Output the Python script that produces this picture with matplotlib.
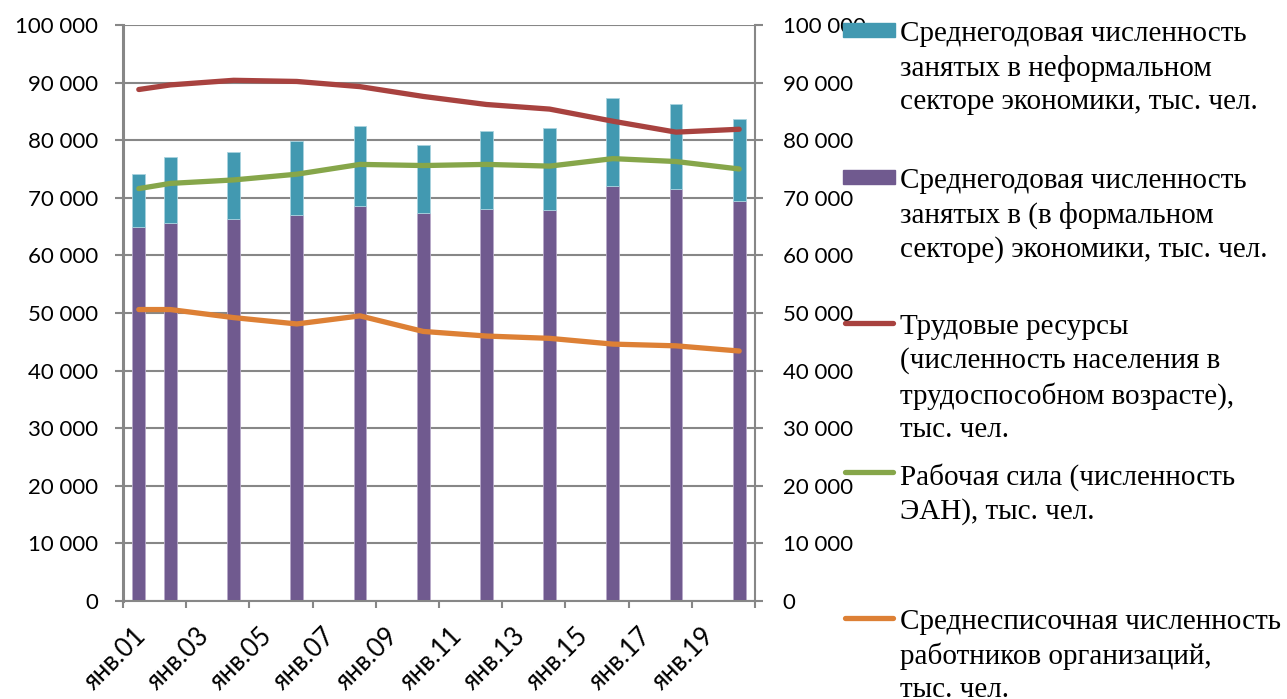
import numpy as np
import matplotlib
matplotlib.use("Agg")
import matplotlib.pyplot as plt
from matplotlib.lines import Line2D
from matplotlib.patches import Rectangle
from matplotlib.ticker import FuncFormatter, MultipleLocator
from matplotlib.transforms import ScaledTranslation

# годы наблюдений и показатели, тыс. чел.
years = [2001, 2002, 2004, 2006, 2008, 2010, 2012, 2014, 2016, 2018, 2020]
formal = [65000, 65600, 66400, 67100, 68500, 67400, 68000, 67800, 72100, 71600, 69500]
informal = [9100, 11500, 11500, 12800, 13900, 11700, 13600, 14400, 15300, 14600, 14100]
labor_resources = [88800, 89600, 90400, 90200, 89300, 87600, 86200, 85400, 83300, 81400, 81900]
labor_force = [71600, 72500, 73100, 74100, 75800, 75600, 75800, 75500, 76800, 76300, 75000]
employees = [50600, 50600, 49200, 48100, 49500, 46800, 46000, 45600, 44600, 44300, 43400]

tick_years = list(range(2001, 2022, 2))

labels = [
    "Среднегодовая численность\nзанятых в неформальном\nсекторе экономики, тыс. чел.",
    "Среднегодовая численность\nзанятых в (в формальном\nсекторе) экономики, тыс. чел.",
    "Трудовые ресурсы\n(численность населения в\nтрудоспособном возрасте),\nтыс. чел.",
    "Рабочая сила (численность\nЭАН), тыс. чел.",
    "Среднесписочная численность\nработников организаций,\nтыс. чел.",
]

c_teal = "#4299b1"
c_purple = "#705a8f"
c_red = "#a8423f"
c_green = "#86a64a"
c_orange = "#dd8035"
c_grid = "#878787"

tick_font = ["Lato", "DejaVu Sans"]
W, H = 1287, 699

fig = plt.figure(figsize=(W / 100, H / 100), dpi=100)
ax = fig.add_axes([123 / W, 1 - 601 / H, (755 - 123) / W, (601 - 25) / H])

# точка года ставится в середину годового интервала
x = np.array(years) + 0.5
ax.bar(x, formal, width=0.4, color=c_purple, edgecolor="#b7a9c9", linewidth=0.6, zorder=2)
ax.bar(x, informal, width=0.4, bottom=formal, color=c_teal, edgecolor="#a9d3df",
       linewidth=0.6, zorder=2)
lw = 3.8
ax.plot(x, labor_resources, color=c_red, lw=lw, solid_capstyle="round", zorder=3)
ax.plot(x, labor_force, color=c_green, lw=lw, solid_capstyle="round", zorder=3)
ax.plot(x, employees, color=c_orange, lw=lw, solid_capstyle="round", zorder=3)

ax.set_xlim(2001, 2021)
ax.set_ylim(0, 100000)
ax.yaxis.set_major_locator(MultipleLocator(10000))
ax.set_xticks(tick_years)
ax.set_xticklabels([f"янв.{y % 100:02d}" if y < 2021 else "" for y in tick_years])
ax.grid(axis="y", color=c_grid, lw=1.5, zorder=0)
ax.set_axisbelow(True)

fmt = FuncFormatter(lambda v, p: f"{v:,.0f}".replace(",", " "))
ax.yaxis.set_major_formatter(fmt)

for s in ["top", "right"]:
    ax.spines[s].set_visible(False)
ax.spines["left"].set_color(c_grid)
ax.spines["left"].set_linewidth(2.2)
ax.spines["bottom"].set_color(c_grid)
ax.spines["bottom"].set_linewidth(1.5)
ax.tick_params(axis="y", length=6, width=1.5, color=c_grid, pad=12, labelsize=16)
ax.tick_params(axis="x", length=5, width=1.5, color=c_grid, pad=11, labelsize=18.5)
for t in ax.get_yticklabels():
    t.set_fontfamily(tick_font)
shift = ScaledTranslation(-8 / 100, 0, fig.dpi_scale_trans)
for t in ax.get_xticklabels():
    t.set_fontfamily(tick_font)
    t.set_rotation(45)
    t.set_ha("center")
    t.set_va("top")
    t.set_transform(t.get_transform() + shift)

# правая ось с той же шкалой
ax2 = ax.twinx()
ax2.set_ylim(0, 100000)
ax2.yaxis.set_major_locator(MultipleLocator(10000))
ax2.yaxis.set_major_formatter(fmt)
for s in ["top", "left", "bottom"]:
    ax2.spines[s].set_visible(False)
ax2.spines["right"].set_color(c_grid)
ax2.spines["right"].set_linewidth(1.5)
ax2.tick_params(axis="y", length=6, width=1.5, color=c_grid, pad=14, labelsize=16)
for t in ax2.get_yticklabels():
    t.set_fontfamily(tick_font)
    t.set_ha("left")

# легенда справа
handle_y = [30, 177, 323, 472, 618]
kinds = [("bar", c_teal), ("bar", c_purple), ("line", c_red), ("line", c_green), ("line", c_orange)]
for (kind, col), hy, lab in zip(kinds, handle_y, labels):
    if kind == "bar":
        fig.add_artist(Rectangle((843 / W, 1 - (hy + 7) / H), 52 / W, 14 / H,
                                 transform=fig.transFigure, color=col, zorder=5))
    else:
        fig.add_artist(Line2D([845 / W, 893 / W], [1 - hy / H, 1 - hy / H],
                              transform=fig.transFigure, color=col, lw=lw,
                              solid_capstyle="round", zorder=5))
    fig.text(900 / W, 1 - (hy - 9) / H, lab, ha="left", va="top",
             fontfamily="Liberation Serif", fontsize=21, linespacing=1.36, zorder=6)

fig.savefig("out.png", dpi=100)
